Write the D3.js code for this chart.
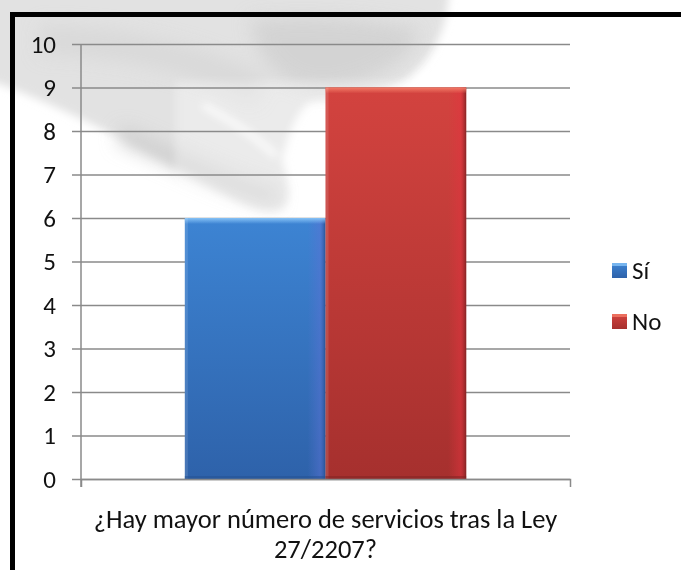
<!DOCTYPE html>
<html>
<head>
<meta charset="utf-8">
<script src="https://cdn.jsdelivr.net/npm/d3@7"></script>
<style>
  body { margin: 0; background: #fff; }
  svg { display: block; }
  text { font-family: Carlito, Calibri, Lato, sans-serif; fill: #111; }
</style>
</head>
<body>
<svg id="chart" width="681" height="570"></svg>
<script>
// Survey answers: one question, two answer series
const categories = ["¿Hay mayor número de servicios tras la Ley 27/2207?"];
const categoryLines = ["¿Hay mayor número de servicios tras la Ley", "27/2207?"];
const seriesNames = ["Sí", "No"];
const siValues = [6];
const noValues = [9];
const yTicks = [0, 1, 2, 3, 4, 5, 6, 7, 8, 9, 10];

const seriesValues = { "Sí": siValues, "No": noValues };
const palette = {
  "Sí": { top: "#3d84d3", bottom: "#2e62aa", hi: "#86c2f6", edge: "#5a72d4", shade: "#23508f" },
  "No": { top: "#d3433f", bottom: "#a6302e", hi: "#f27a66", edge: "#e3333f", shade: "#7e2222" }
};

const W = 681, H = 570;
const plot = { left: 81, right: 570, top: 44, bottom: 479 };

const svg = d3.select("#chart");
const defs = svg.append("defs");

// blur filters for the faded photo and the glow round the bars
defs.append("filter").attr("id", "soft").attr("x", "-20%").attr("y", "-20%").attr("width", "140%").attr("height", "140%")
  .append("feGaussianBlur").attr("stdDeviation", 4);
defs.append("filter").attr("id", "softer").attr("x", "-30%").attr("y", "-30%").attr("width", "160%").attr("height", "160%")
  .append("feGaussianBlur").attr("stdDeviation", 9);
defs.append("filter").attr("id", "halo").attr("x", "-20%").attr("y", "-20%").attr("width", "140%").attr("height", "140%")
  .append("feGaussianBlur").attr("stdDeviation", 4);

seriesNames.forEach((s, i) => {
  const c = palette[s];
  const g = defs.append("linearGradient").attr("id", "body" + i).attr("x1", 0).attr("y1", 0).attr("x2", 0).attr("y2", 1);
  g.append("stop").attr("offset", "0%").attr("stop-color", c.top);
  g.append("stop").attr("offset", "100%").attr("stop-color", c.bottom);
  const e = defs.append("linearGradient").attr("id", "edge" + i).attr("x1", 0).attr("y1", 0).attr("x2", 1).attr("y2", 0);
  e.append("stop").attr("offset", "0%").attr("stop-color", c.edge).attr("stop-opacity", 0);
  e.append("stop").attr("offset", "70%").attr("stop-color", c.edge).attr("stop-opacity", 0.5);
  e.append("stop").attr("offset", "100%").attr("stop-color", c.shade).attr("stop-opacity", 0.9);
  const t = defs.append("linearGradient").attr("id", "top" + i).attr("x1", 0).attr("y1", 0).attr("x2", 0).attr("y2", 1);
  t.append("stop").attr("offset", "0%").attr("stop-color", c.hi).attr("stop-opacity", 1);
  t.append("stop").attr("offset", "100%").attr("stop-color", c.hi).attr("stop-opacity", 0);
});

svg.append("rect").attr("width", W).attr("height", H).attr("fill", "#fff");

// faded hand photo in the background
const bg = svg.append("g").attr("filter", "url(#soft)");
bg.append("path")
  .attr("d", "M-20,-20 L452,-20 L448,2 C446,32 430,62 405,80 C385,92 350,98 310,102 " +
             "C296,112 288,135 282,160 C288,180 292,198 284,207 C272,216 250,208 228,196 " +
             "C170,165 90,118 0,84 L-20,80 Z")
  .attr("fill", "#e2e2e2");
// darker tones on the palm and along the finger
const shade = svg.append("g").attr("filter", "url(#softer)");
shade.append("path")
  .attr("d", "M250,20 C320,15 380,20 420,30 C410,60 380,80 330,88 C290,90 260,70 250,20 Z")
  .attr("fill", "#d0d0d0").attr("opacity", 0.8);
shade.append("path")
  .attr("d", "M120,135 C180,160 235,188 278,198")
  .attr("fill", "none").attr("stroke", "#cbcbcb").attr("stroke-width", 16).attr("opacity", 0.9);
shade.append("path")
  .attr("d", "M40,40 C120,40 200,60 260,90")
  .attr("fill", "none").attr("stroke", "#d4d4d4").attr("stroke-width", 30).attr("opacity", 0.6);
// light gap between two fingers
bg.append("path")
  .attr("d", "M203,105 C230,120 258,138 276,156")
  .attr("fill", "none").attr("stroke", "#fdfdfd").attr("stroke-width", 6);

// scales
const y = d3.scaleLinear().domain([0, 10]).range([plot.bottom, plot.top]);
const x0 = d3.scaleBand().domain(categories).range([plot.left, plot.right]).paddingInner(0).paddingOuter(0.369);
const x1 = d3.scaleBand().domain(seriesNames).range([0, x0.bandwidth()]).padding(0);

// light glow round the bar group
const haloG = svg.append("g").attr("filter", "url(#halo)");
categories.forEach((cat, ci) => {
  const top = y(d3.max(seriesNames, s => seriesValues[s][ci]));
  haloG.append("rect")
    .attr("x", x0(cat) - 10).attr("y", top - 6)
    .attr("width", x0.bandwidth() + 18).attr("height", y(0) - top + 14)
    .attr("fill", "#fff").attr("opacity", 0.3);
});

// gridlines
const grid = svg.append("g").attr("transform", `translate(${plot.left},0)`)
  .call(d3.axisLeft(y).tickValues(yTicks).tickSize(-(plot.right - plot.left)).tickFormat(""));
grid.select(".domain").remove();
grid.selectAll(".tick line").attr("stroke", "#8a8a8a").attr("stroke-width", 1.5);

// value axis with short outer ticks
const yAxis = svg.append("g").attr("transform", `translate(${plot.left},0)`)
  .call(d3.axisLeft(y).tickValues(yTicks).tickSize(9).tickSizeOuter(0).tickPadding(16).tickFormat(d3.format("d")));
yAxis.select(".domain").attr("stroke", "#8a8a8a").attr("stroke-width", 1.5)
  .attr("d", `M0,${plot.top}V${plot.bottom + 8}`);
yAxis.selectAll(".tick line").attr("stroke", "#8a8a8a").attr("stroke-width", 1.5);
yAxis.selectAll(".tick text").attr("font-size", 25).attr("font-family", null).attr("fill", "#111");

// bars
const barsG = svg.append("g");
categories.forEach((cat, ci) => {
  seriesNames.forEach((s, si) => {
    const v = seriesValues[s][ci];
    const bx = x0(cat) + x1(s), bw = x1.bandwidth();
    const by = y(v), bh = y(0) - y(v);
    const g = barsG.append("g");
    g.append("rect").attr("x", bx).attr("y", by).attr("width", bw).attr("height", bh).attr("fill", `url(#body${si})`);
    g.append("rect").attr("x", bx + bw - 18).attr("y", by).attr("width", 18).attr("height", bh).attr("fill", `url(#edge${si})`);
    g.append("rect").attr("x", bx).attr("y", by).attr("width", bw).attr("height", 6).attr("fill", `url(#top${si})`);
    g.append("rect").attr("x", bx).attr("y", by).attr("width", 3).attr("height", bh).attr("fill", "#fff").attr("opacity", 0.12);
    g.append("rect").attr("x", bx).attr("y", by + bh - 3).attr("width", bw).attr("height", 3).attr("fill", palette[s].shade).attr("opacity", 0.5);
  });
});

// category axis along the bottom
const xAxis = svg.append("g").attr("transform", `translate(0,${plot.bottom})`)
  .call(d3.axisBottom(x0).tickSize(0).tickSizeOuter(8).tickFormat(""));
xAxis.select(".domain").attr("stroke", "#8a8a8a").attr("stroke-width", 1.5);

categories.forEach(cat => {
  const cx = x0(cat) + x0.bandwidth() / 2;
  const t = svg.append("text").attr("text-anchor", "middle").attr("font-size", 26.5);
  categoryLines.forEach((line, i) => {
    t.append("tspan").attr("x", cx).attr("y", 528 + i * 30).text(line);
  });
});

// legend
const legend = svg.append("g").attr("transform", "translate(612,0)");
seriesNames.forEach((s, i) => {
  const ly = 263 + i * 51;
  legend.append("rect").attr("x", 0).attr("y", ly).attr("width", 15).attr("height", 15).attr("fill", `url(#body${i})`);
  legend.append("rect").attr("x", 0).attr("y", ly).attr("width", 15).attr("height", 3).attr("fill", palette[s].hi).attr("opacity", 0.8);
  legend.append("text").attr("x", 20).attr("y", ly + 16).attr("font-size", 25).text(s);
});

// black frame on top and left
svg.append("path").attr("d", `M12.5,${H + 5}V14.5H${W + 5}`)
  .attr("fill", "none").attr("stroke", "#000").attr("stroke-width", 5);
</script>
</body>
</html>
